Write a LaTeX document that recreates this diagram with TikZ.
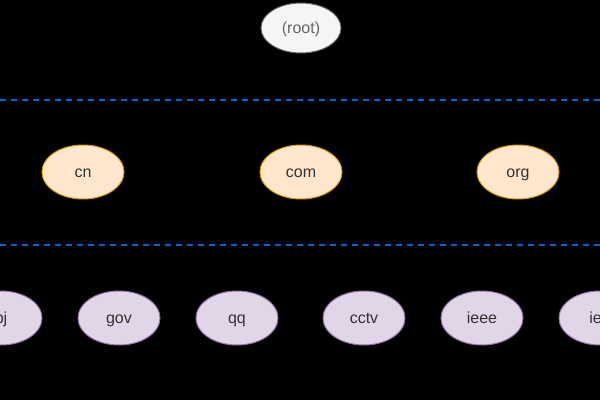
\documentclass[tikz,border=0pt]{standalone}
\usepackage{fontspec}
\setmainfont{Liberation Sans}
\usetikzlibrary{positioning, shapes.geometric}

\definecolor{rootfill}{HTML}{F5F5F5}
\definecolor{rootline}{HTML}{666666}
\definecolor{roottext}{HTML}{666666}
\definecolor{tldfill}{HTML}{FFE6CC}
\definecolor{tldline}{HTML}{D79B00}
\definecolor{sldfill}{HTML}{E1D5E7}
\definecolor{sldline}{HTML}{9673A6}
\definecolor{nodetext}{HTML}{333333}
\definecolor{zoneblue}{HTML}{0066CC}

\begin{document}
\begin{tikzpicture}[
    x=1pt, y=-1pt,
    % Styles
    dnsnode/.style={
        ellipse,
        draw,
        line width=1pt,
        minimum width=82pt,
        minimum height=54pt,
        inner sep=0pt,
        text height=14.5pt,
        text depth=3.4pt,
        text=nodetext,
        font=\fontsize{16}{19}\selectfont
    },
    rootnode/.style={
        dnsnode,
        fill=rootfill,
        draw=rootline,
        minimum width=80pt,
        minimum height=50pt,
        text=roottext
    },
    tld/.style={
        dnsnode,
        fill=tldfill,
        draw=tldline
    },
    sld/.style={
        dnsnode,
        fill=sldfill,
        draw=sldline
    },
    zoneline/.style={
        draw=zoneblue,
        line width=2pt,
        dash pattern=on 6pt off 5pt
    }
]

    % Canvas
    \fill[black] (0,0) rectangle (600,400);
    \useasboundingbox (0,0) rectangle (600,400);
    \clip (0,0) rectangle (600,400);

    % Zone borders
    \coordinate (zone1w) at (0,100);
    \coordinate (zone1e) at (600,100);
    \coordinate (zone2w) at (0,245);
    \coordinate (zone2e) at (600,245);
    \draw[zoneline] (zone1w) -- (zone1e);
    \draw[zoneline] (zone2w) -- (zone2e);

    % Root
    \node[rootnode] (root) at (301,28) {(root)};

    % Top level domains
    \node[tld] (cn) at (83,172) {cn};
    \node[tld] (com) at (301,172) {com};
    \node[tld] (org) at (518,172) {org};

    % Second level domains
    \node[sld] (bj) at (1,318) {bj};
    \node[sld] (gov) at (119,318) {gov};
    \node[sld] (qq) at (237,318) {qq};
    \node[sld] (cctv) at (364,318) {cctv};
    \node[sld] (ieee) at (482,318) {ieee};
    \node[sld] (ietf) at (600,318) {ietf};
\end{tikzpicture}
\end{document}
